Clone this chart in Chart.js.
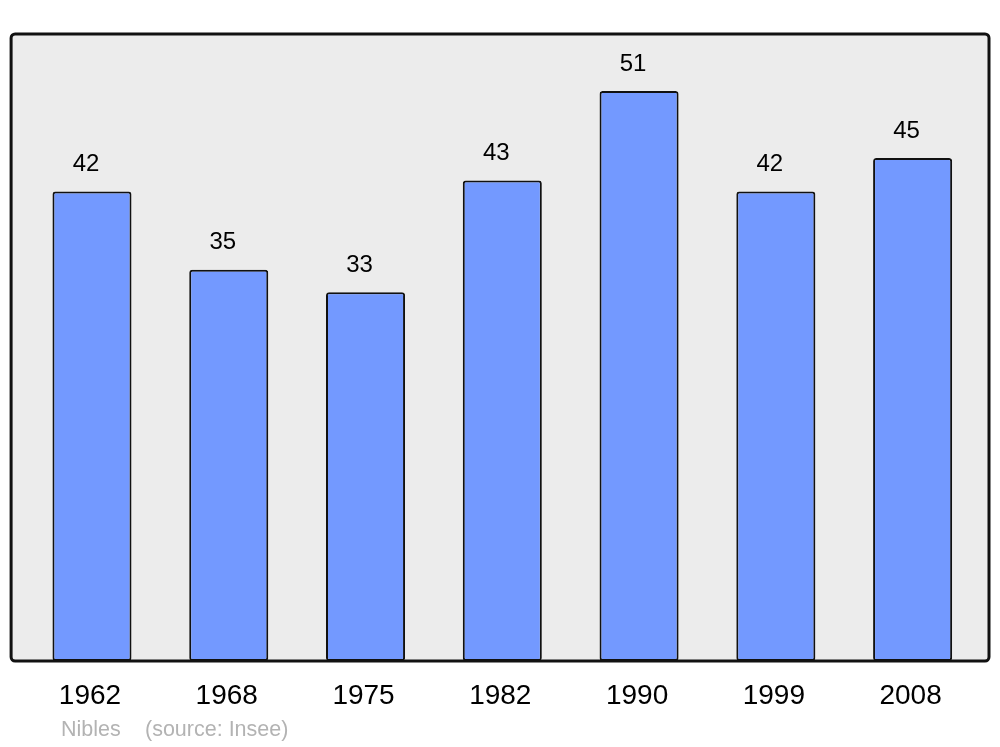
<!DOCTYPE html>
<html>
<head>
<meta charset="utf-8">
<script src="https://cdn.jsdelivr.net/npm/chart.js@4"></script>
<style>
  html, body { margin: 0; padding: 0; background: #ffffff; }
  #wrap { width: 1000px; height: 747px; }
</style>
</head>
<body>
<div id="wrap"><canvas id="c" width="1000" height="747"></canvas></div>
<script>
const years = ["1962", "1968", "1975", "1982", "1990", "1999", "2008"];
const population = [42, 35, 33, 43, 51, 42, 45];
const footerName = "Nibles";
const footerSource = "(source: Insee)";

const framePlugin = {
  id: 'frame',
  beforeDatasetsDraw(chart) {
    const { ctx, chartArea: a } = chart;
    const x0 = a.left - 12.5, x1 = a.right + 8, y0 = a.top, y1 = a.bottom;
    ctx.save();
    ctx.beginPath();
    ctx.roundRect(x0, y0, x1 - x0, y1 - y0, 4);
    ctx.fillStyle = '#ececec';
    ctx.fill();
    ctx.restore();
  },
  afterDatasetsDraw(chart) {
    const { ctx, chartArea: a } = chart;
    const x0 = a.left - 12.5, x1 = a.right + 8, y0 = a.top, y1 = a.bottom;
    ctx.save();
    ctx.beginPath();
    ctx.roundRect(x0, y0, x1 - x0, y1 - y0, 4);
    ctx.lineWidth = 3;
    ctx.strokeStyle = '#111111';
    ctx.stroke();
    // value labels
    const meta = chart.getDatasetMeta(0);
    ctx.fillStyle = '#000000';
    ctx.font = '24px "Liberation Sans", Arial, sans-serif';
    ctx.textAlign = 'center';
    ctx.textBaseline = 'middle';
    meta.data.forEach((bar, i) => {
      ctx.fillText(String(population[i]), bar.x - 6, bar.y - 27);
    });
    // footer
    ctx.fillStyle = '#b3b3b3';
    ctx.font = '21.5px "Liberation Sans", Arial, sans-serif';
    ctx.textAlign = 'left';
    ctx.fillText(footerName, 61, 730);
    ctx.fillText(footerSource, 145, 730);
    ctx.restore();
  }
};

new Chart(document.getElementById('c'), {
  type: 'bar',
  data: {
    labels: years,
    datasets: [{
      data: population,
      backgroundColor: '#7399ff',
      borderColor: '#111111',
      borderWidth: 2,
      borderRadius: 3,
      borderSkipped: false,
      barPercentage: 0.578,
      categoryPercentage: 1.0
    }]
  },
  options: {
    responsive: false,
    animation: false,
    devicePixelRatio: 1,
    layout: { padding: { left: 23.6, right: 19, top: 34, bottom: 16.4 } },
    plugins: { legend: { display: false }, tooltip: { enabled: false }, title: { display: false } },
    scales: {
      x: {
        grid: { display: false, drawTicks: false },
        border: { display: false },
        ticks: {
          color: '#000000',
          padding: 18,
          labelOffset: -2,
          font: { family: '"Liberation Sans", Arial, sans-serif', size: 28 }
        }
      },
      y: { display: false, min: 0, max: 56.1 }
    }
  },
  plugins: [framePlugin]
});
</script>
</body>
</html>
